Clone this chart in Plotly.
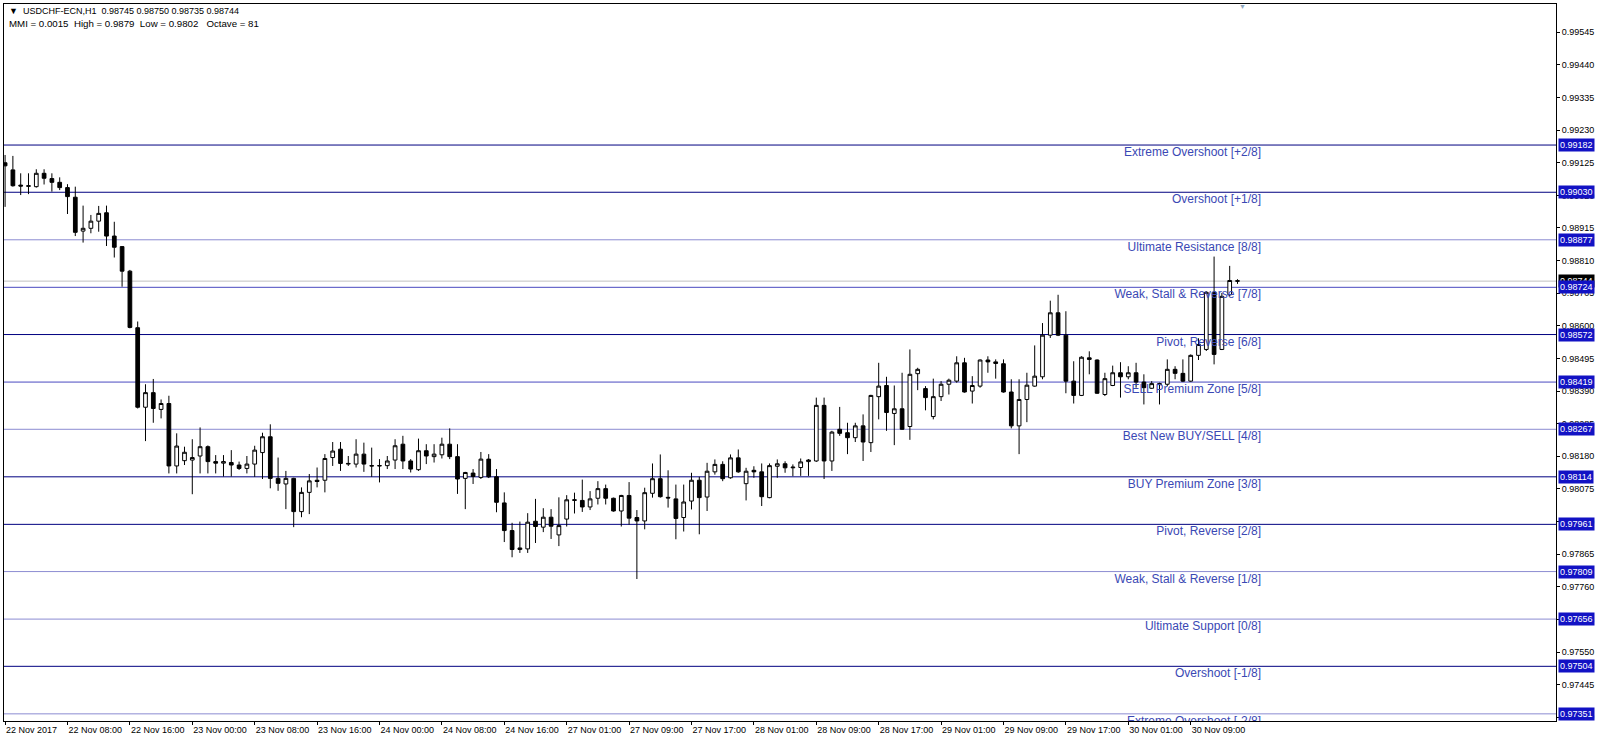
import plotly.graph_objects as go
import pandas as pd

# ---------------- data ----------------
opens = [0.99125, 0.99102, 0.99053, 0.99049, 0.99048, 0.99091, 0.99074, 0.99062, 0.99045, 0.99014,
         0.98905, 0.98914, 0.98937, 0.98964, 0.98889, 0.98855, 0.98776, 0.98594, 0.98338, 0.98385,
         0.98331, 0.98350, 0.98149, 0.98166, 0.98168, 0.98181, 0.98211, 0.98163, 0.98158, 0.98160,
         0.98152, 0.98141, 0.98155, 0.98192, 0.98243, 0.98109, 0.98091, 0.98109, 0.98002, 0.98064,
         0.98103, 0.98103, 0.98176, 0.98203, 0.98155, 0.98155, 0.98187, 0.98150, 0.98149, 0.98150,
         0.98168, 0.98219, 0.98165, 0.98137, 0.98198, 0.98179, 0.98185, 0.98219, 0.98179, 0.98109,
         0.98126, 0.98112, 0.98171, 0.98114, 0.98030, 0.97941, 0.97880, 0.97882, 0.97971, 0.97952,
         0.97984, 0.97927, 0.97978, 0.98038, 0.98038, 0.98017, 0.98045, 0.98076, 0.98045, 0.98004,
         0.98054, 0.97983, 0.97972, 0.98061, 0.98108, 0.98048, 0.98043, 0.97983, 0.98036, 0.98103,
         0.98049, 0.98130, 0.98154, 0.98111, 0.98175, 0.98092, 0.98135, 0.98130, 0.98047, 0.98148,
         0.98156, 0.98143, 0.98144, 0.98163, 0.98165, 0.98344, 0.98165, 0.98267, 0.98256, 0.98240,
         0.98278, 0.98224, 0.98372, 0.98408, 0.98318, 0.98333, 0.98276, 0.98446, 0.98398, 0.98308,
         0.98372, 0.98412, 0.98422, 0.98481, 0.98390, 0.98406, 0.98490, 0.98484, 0.98478, 0.98387,
         0.98278, 0.98363, 0.98406, 0.98436, 0.98570, 0.98642, 0.98570, 0.98422, 0.98376, 0.98497,
         0.98490, 0.98379, 0.98408, 0.98449, 0.98436, 0.98449, 0.98419, 0.98399, 0.98414, 0.98412,
         0.98460, 0.98447, 0.98422, 0.98505, 0.98524, 0.98708, 0.98524, 0.98700, 0.98745]
highs = [0.99150, 0.99147, 0.99091, 0.99091, 0.99104, 0.99104, 0.99091, 0.99078, 0.99056, 0.99048,
         0.98987, 0.98957, 0.98986, 0.98987, 0.98935, 0.98857, 0.98780, 0.98614, 0.98412, 0.98429,
         0.98363, 0.98375, 0.98254, 0.98211, 0.98235, 0.98273, 0.98215, 0.98184, 0.98184, 0.98200,
         0.98163, 0.98181, 0.98214, 0.98256, 0.98283, 0.98176, 0.98133, 0.98111, 0.98080, 0.98123,
         0.98144, 0.98187, 0.98226, 0.98226, 0.98181, 0.98235, 0.98224, 0.98208, 0.98171, 0.98181,
         0.98235, 0.98246, 0.98171, 0.98237, 0.98219, 0.98219, 0.98240, 0.98270, 0.98219, 0.98130,
         0.98139, 0.98194, 0.98187, 0.98139, 0.98064, 0.97966, 0.97970, 0.97997, 0.98043, 0.98013,
         0.98010, 0.98048, 0.98055, 0.98063, 0.98105, 0.98068, 0.98100, 0.98089, 0.98047, 0.98056,
         0.98097, 0.98007, 0.98079, 0.98157, 0.98186, 0.98135, 0.98089, 0.98089, 0.98127, 0.98114,
         0.98159, 0.98170, 0.98164, 0.98186, 0.98202, 0.98143, 0.98148, 0.98157, 0.98157, 0.98170,
         0.98164, 0.98154, 0.98173, 0.98171, 0.98369, 0.98369, 0.98262, 0.98339, 0.98288, 0.98288,
         0.98315, 0.98378, 0.98481, 0.98436, 0.98408, 0.98449, 0.98524, 0.98465, 0.98406, 0.98430,
         0.98422, 0.98430, 0.98502, 0.98497, 0.98438, 0.98492, 0.98502, 0.98492, 0.98492, 0.98428,
         0.98428, 0.98449, 0.98537, 0.98609, 0.98681, 0.98700, 0.98647, 0.98486, 0.98502, 0.98518,
         0.98492, 0.98449, 0.98472, 0.98483, 0.98470, 0.98481, 0.98444, 0.98422, 0.98417, 0.98492,
         0.98470, 0.98492, 0.98508, 0.98560, 0.98711, 0.98823, 0.98706, 0.98793, 0.98750]
lows = [0.98983, 0.99048, 0.99021, 0.99024, 0.99045, 0.99055, 0.99032, 0.99037, 0.98960, 0.98889,
        0.98868, 0.98898, 0.98903, 0.98857, 0.98820, 0.98726, 0.98592, 0.98334, 0.98229, 0.98288,
        0.98302, 0.98125, 0.98125, 0.98152, 0.98058, 0.98125, 0.98125, 0.98125, 0.98115, 0.98115,
        0.98136, 0.98125, 0.98114, 0.98107, 0.98077, 0.98069, 0.98010, 0.97952, 0.97984, 0.97994,
        0.98080, 0.98064, 0.98149, 0.98133, 0.98149, 0.98144, 0.98130, 0.98114, 0.98096, 0.98139,
        0.98139, 0.98139, 0.98128, 0.98133, 0.98155, 0.98160, 0.98173, 0.98171, 0.98059, 0.98010,
        0.98091, 0.98107, 0.98110, 0.98000, 0.97904, 0.97855, 0.97869, 0.97869, 0.97901, 0.97936,
        0.97914, 0.97891, 0.97954, 0.97996, 0.98001, 0.98007, 0.98025, 0.98025, 0.98002, 0.97954,
        0.97960, 0.97785, 0.97945, 0.98047, 0.98047, 0.98015, 0.97913, 0.97938, 0.98009, 0.97929,
        0.98004, 0.98121, 0.98100, 0.98108, 0.98127, 0.98038, 0.98111, 0.98020, 0.98045, 0.98111,
        0.98127, 0.98116, 0.98117, 0.98117, 0.98162, 0.98107, 0.98133, 0.98246, 0.98187, 0.98226,
        0.98165, 0.98194, 0.98299, 0.98262, 0.98216, 0.98265, 0.98233, 0.98393, 0.98328, 0.98299,
        0.98358, 0.98379, 0.98417, 0.98385, 0.98350, 0.98401, 0.98449, 0.98430, 0.98385, 0.98270,
        0.98187, 0.98290, 0.98404, 0.98428, 0.98561, 0.98567, 0.98383, 0.98350, 0.98374, 0.98444,
        0.98381, 0.98374, 0.98406, 0.98369, 0.98428, 0.98401, 0.98347, 0.98397, 0.98347, 0.98406,
        0.98428, 0.98419, 0.98420, 0.98490, 0.98519, 0.98476, 0.98522, 0.98695, 0.98735]
closes = [0.99115, 0.99051, 0.99050, 0.99051, 0.99091, 0.99075, 0.99062, 0.99045, 0.99016, 0.98901,
          0.98914, 0.98937, 0.98962, 0.98889, 0.98853, 0.98776, 0.98595, 0.98338, 0.98385, 0.98334,
          0.98350, 0.98149, 0.98213, 0.98193, 0.98176, 0.98211, 0.98163, 0.98158, 0.98163, 0.98152,
          0.98141, 0.98155, 0.98200, 0.98243, 0.98109, 0.98093, 0.98109, 0.98002, 0.98064, 0.98101,
          0.98099, 0.98173, 0.98197, 0.98157, 0.98157, 0.98187, 0.98155, 0.98149, 0.98150, 0.98165,
          0.98214, 0.98165, 0.98139, 0.98198, 0.98181, 0.98187, 0.98219, 0.98179, 0.98107, 0.98128,
          0.98115, 0.98171, 0.98114, 0.98032, 0.97941, 0.97880, 0.97885, 0.97968, 0.97954, 0.97984,
          0.97955, 0.97957, 0.98040, 0.98040, 0.98017, 0.98043, 0.98076, 0.98045, 0.98004, 0.98054,
          0.97981, 0.97972, 0.98063, 0.98108, 0.98050, 0.98046, 0.97980, 0.98033, 0.98103, 0.98047,
          0.98132, 0.98154, 0.98108, 0.98175, 0.98130, 0.98132, 0.98130, 0.98050, 0.98150, 0.98156,
          0.98143, 0.98145, 0.98162, 0.98168, 0.98344, 0.98165, 0.98258, 0.98254, 0.98240, 0.98278,
          0.98226, 0.98376, 0.98406, 0.98321, 0.98333, 0.98267, 0.98444, 0.98460, 0.98369, 0.98372,
          0.98412, 0.98425, 0.98481, 0.98387, 0.98408, 0.98490, 0.98484, 0.98479, 0.98387, 0.98278,
          0.98363, 0.98409, 0.98438, 0.98570, 0.98642, 0.98570, 0.98422, 0.98376, 0.98499, 0.98492,
          0.98383, 0.98430, 0.98449, 0.98436, 0.98449, 0.98419, 0.98401, 0.98414, 0.98411, 0.98460,
          0.98447, 0.98422, 0.98505, 0.98540, 0.98708, 0.98508, 0.98695, 0.98746, 0.98744]

# hourly bars: Wed 22 Nov 00:00 .. Fri 24 Nov 22:00, then Mon 27 Nov 00:00 onwards
session_a = pd.date_range("2017-11-22 00:00", "2017-11-24 22:00", freq="h")
session_b = pd.date_range("2017-11-27 00:00", periods=len(opens) - len(session_a), freq="h")
bar_times = list(session_a) + list(session_b)

x_tick_labels = ["22 Nov 2017", "22 Nov 08:00", "22 Nov 16:00", "23 Nov 00:00", "23 Nov 08:00",
                 "23 Nov 16:00", "24 Nov 00:00", "24 Nov 08:00", "24 Nov 16:00", "27 Nov 01:00",
                 "27 Nov 09:00", "27 Nov 17:00", "28 Nov 01:00", "28 Nov 09:00", "28 Nov 17:00",
                 "29 Nov 01:00", "29 Nov 09:00", "29 Nov 17:00", "30 Nov 01:00", "30 Nov 09:00"]

y_tick_values = [0.97340, 0.97445, 0.97550, 0.97655, 0.97760, 0.97865, 0.97970, 0.98075, 0.98180,
                 0.98285, 0.98390, 0.98495, 0.98600, 0.98705, 0.98810, 0.98915, 0.99020, 0.99125,
                 0.99230, 0.99335, 0.99440, 0.99545]

mm_levels = [0.99182, 0.99030, 0.98877, 0.98724, 0.98572, 0.98419, 0.98267,
             0.98114, 0.97961, 0.97809, 0.97656, 0.97504, 0.97351]
mm_names = ["Extreme Overshoot [+2/8]", "Overshoot [+1/8]", "Ultimate Resistance [8/8]",
            "Weak, Stall & Reverse [7/8]", "Pivot, Reverse [6/8]", "SELL Premium Zone [5/8]",
            "Best New BUY/SELL [4/8]", "BUY Premium Zone [3/8]", "Pivot, Reverse [2/8]",
            "Weak, Stall & Reverse [1/8]", "Ultimate Support [0/8]", "Overshoot [-1/8]",
            "Extreme Overshoot [-2/8]"]

NB = "\u00a0"
header_line1 = "USDCHF-ECN,H1" + NB * 2 + (NB).join(["0.98745", "0.98750", "0.98735", "0.98744"])
header_line2 = (NB * 2).join(["MMI = 0.0015", "High = 0.9879", "Low = 0.9802", NB + "Octave = 81"])

# ---------------- styling / layout ----------------
W, H = 1600, 744
PL, PR, PT, PB = 4, 1556, 4, 721           # plot-area pixel box
BAR_PX = 7.8
x_min = -0.14
x_max = x_min + (PR - PL) / BAR_PX
y_min, y_max = 0.97328, 0.99636

level_colors = ["#000080", "#000080", "#8c8cd2", "#4a4ac0", "#000080", "#4a4ac0", "#8c8cd2",
                "#000080", "#000080", "#8c8cd2", "#8c8cd2", "#000080", "#8c8cd2"]
FONT = "Liberation Sans, Arial, sans-serif"
TXT_BLUE = "#3a48b4"
BOX_BLUE = "#1212c4"

bar_idx = list(range(len(opens)))
tick_idx = bar_idx[::8][:len(x_tick_labels)]

def px_to_x(px):
    return x_min + (px - PL) / (PR - PL) * (x_max - x_min)

def px_to_dy(dpx):
    return dpx / (PB - PT) * (y_max - y_min)

fig = go.Figure()

# level labels (clipped to plot area, drawn under candles)
fig.add_trace(go.Scatter(
    x=[px_to_x(1261)] * len(mm_levels),
    y=[lv - px_to_dy(8) for lv in mm_levels],
    mode="text", text=mm_names, textposition="middle left",
    textfont=dict(family=FONT, size=12, color=TXT_BLUE),
    hoverinfo="skip", showlegend=False, cliponaxis=True,
))

fig.add_trace(go.Candlestick(
    x=bar_idx, open=opens, high=highs, low=lows, close=closes,
    increasing=dict(fillcolor="white", line=dict(color="black", width=1)),
    decreasing=dict(fillcolor="black", line=dict(color="black", width=1)),
    whiskerwidth=0, showlegend=False, hoverinfo="skip",
))

shapes = []
for lv, col in zip(mm_levels, level_colors):
    shapes.append(dict(type="line", xref="paper", yref="y", x0=0, x1=1, y0=lv, y1=lv,
                       line=dict(color=col, width=1), layer="below"))
# bid line
shapes.append(dict(type="line", xref="paper", yref="y", x0=0, x1=1,
                   y0=closes[-1], y1=closes[-1], line=dict(color="#c0c0c0", width=1), layer="below"))

annotations = []
box_x = (1558 - PL) / (PR - PL)
annotations.append(dict(xref="paper", yref="y", x=box_x, y=closes[-1], xanchor="left",
                        yanchor="middle", text=f"{closes[-1]:.5f}", showarrow=False,
                        bgcolor="black", borderpad=1,
                        font=dict(family=FONT, size=9, color="white")))
for lv in mm_levels:
    annotations.append(dict(xref="paper", yref="y", x=box_x, y=lv, xanchor="left",
                            yanchor="middle", text=f"{lv:.5f}", showarrow=False,
                            bgcolor=BOX_BLUE, borderpad=1,
                            font=dict(family=FONT, size=9, color="white")))
annotations.append(dict(xref="paper", yref="paper", x=(7 - PL) / (PR - PL), y=1 - (11 - PT) / (PB - PT),
                        xanchor="left", yanchor="middle", showarrow=False,
                        text="\u25BC" + NB * 2 + header_line1,
                        font=dict(family=FONT, size=9, color="black")))
annotations.append(dict(xref="paper", yref="paper", x=(7 - PL) / (PR - PL), y=1 - (24 - PT) / (PB - PT),
                        xanchor="left", yanchor="middle", showarrow=False,
                        text=header_line2, font=dict(family=FONT, size=9.7, color="black")))
annotations.append(dict(xref="paper", yref="paper", x=(1242 - PL) / (PR - PL), y=1 - (6 - PT) / (PB - PT),
                        xanchor="center", yanchor="middle", showarrow=False,
                        text="\u25BC", font=dict(family=FONT, size=7, color="#8fa8c0")))

fig.update_layout(
    width=W, height=H,
    margin=dict(l=PL, r=W - PR, t=PT, b=H - PB, pad=0, autoexpand=False),
    paper_bgcolor="white", plot_bgcolor="white",
    showlegend=False, hovermode=False, boxgap=0.32,
    shapes=shapes, annotations=annotations,
    font=dict(family=FONT, size=9, color="black"),
    xaxis=dict(range=[x_min, x_max], rangeslider=dict(visible=False), showgrid=False,
               zeroline=False, showline=True, linecolor="black", linewidth=1, mirror=True,
               tickmode="array", tickvals=tick_idx, ticktext=x_tick_labels, tickangle=0,
               ticks="outside", ticklen=3, tickcolor="black",
               ticklabelposition="outside right", automargin=False,
               tickfont=dict(family=FONT, size=9, color="black")),
    yaxis=dict(range=[y_min, y_max], side="right", showgrid=False, zeroline=False,
               showline=True, linecolor="black", linewidth=1, mirror=True,
               tickmode="array", tickvals=y_tick_values, tickformat=".5f",
               ticks="outside", ticklen=3, tickcolor="black", automargin=False,
               tickfont=dict(family=FONT, size=9, color="black")),
)

fig.write_html("out.html", config={"displayModeBar": False},
               post_script="document.body.style.margin='0';document.body.style.padding='0';")
